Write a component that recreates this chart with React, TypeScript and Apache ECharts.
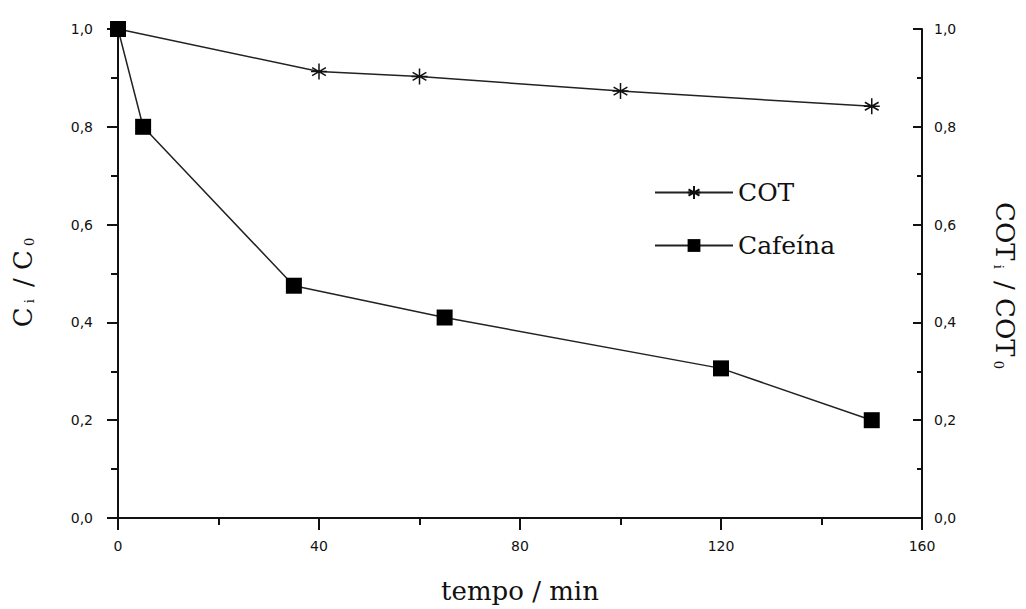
import React, { useEffect, useRef } from "react";
import * as echarts from "echarts";

const cafeinaTime = [0, 5, 35, 65, 120, 150];
const cafeinaValues = [1.0, 0.8, 0.475, 0.41, 0.306, 0.2];
const cotTime = [0, 40, 60, 100, 150];
const cotValues = [1.0, 0.913, 0.903, 0.873, 0.842];
const xTicks = [0, 40, 80, 120, 160];
const seriesNames = ["COT", "Cafeína"];

const asterisk = "path://M5,0L5,10M0.7,2.5L9.3,7.5M9.3,2.5L0.7,7.5M0,5L10,5";

const fmt = (v: number) => v.toFixed(1).replace(".", ",");

export default function App() {
  const ref = useRef<HTMLDivElement>(null);
  useEffect(() => {
    if (!ref.current) return;
    const chart = echarts.init(ref.current, undefined, { renderer: "svg" });
    const axisColor = "#111";
    const labelFont = { fontFamily: "DejaVu Sans", fontSize: 14, color: "#111" };
    const serif = "DejaVu Serif";
    const rich = {
      s: { fontFamily: serif, fontSize: 13, color: "#111", verticalAlign: "bottom" as const, padding: [12, 4, 0, 4] },
    };
    chart.setOption({
      animation: false,
      backgroundColor: "#fff",
      grid: { left: 118, right: 99, top: 29, bottom: 89 },
      legend: {
        orient: "vertical",
        left: 649,
        top: 175,
        itemWidth: 78,
        itemHeight: 16,
        itemGap: 28,
        data: seriesNames,
        textStyle: { fontFamily: serif, fontSize: 25, color: "#111" },
      },
      xAxis: {
        type: "value",
        min: 0,
        max: 160,
        interval: 40,
        name: "tempo / min",
        nameLocation: "middle",
        nameGap: 60,
        nameTextStyle: { fontFamily: serif, fontSize: 26, color: "#111" },
        axisLine: { show: true, onZero: false, lineStyle: { color: axisColor, width: 2 } },
        axisTick: { show: true, length: 12, lineStyle: { color: axisColor, width: 2 } },
        minorTick: { show: true, splitNumber: 2, length: 7, lineStyle: { color: axisColor, width: 2 } },
        axisLabel: { ...labelFont, margin: 21, formatter: (v: number) => String(v), customValues: xTicks },
        splitLine: { show: false },
      },
      yAxis: [
        {
          type: "value",
          position: "left",
          min: 0,
          max: 1,
          interval: 0.2,
          name: "C{s|i} / C{s|0}",
          nameLocation: "middle",
          nameGap: 82,
          nameRotate: 90,
          nameTextStyle: { fontFamily: serif, fontSize: 26, color: "#111", rich, padding: [0, 14, 0, 0] },
          axisLine: { show: true, onZero: false, lineStyle: { color: axisColor, width: 2 } },
          axisTick: { show: true, length: 11, lineStyle: { color: axisColor, width: 2 } },
          minorTick: { show: true, splitNumber: 2, length: 7, lineStyle: { color: axisColor, width: 2 } },
          axisLabel: { ...labelFont, margin: 25, formatter: fmt },
          splitLine: { show: false },
        },
        {
          type: "value",
          position: "right",
          min: 0,
          max: 1,
          interval: 0.2,
          name: "COT{s|i} / COT{s|0}",
          nameLocation: "middle",
          nameGap: 70,
          nameRotate: -90,
          nameTextStyle: { fontFamily: serif, fontSize: 26, color: "#111", rich, padding: [0, 0, 0, 28] },
          axisLine: { show: true, onZero: false, lineStyle: { color: axisColor, width: 2 } },
          axisTick: { show: true, inside: true, length: 9, lineStyle: { color: axisColor, width: 2 } },
          minorTick: { show: true, splitNumber: 2, length: 5, lineStyle: { color: axisColor, width: 2 } },
          axisLabel: { ...labelFont, margin: 12, formatter: fmt },
          splitLine: { show: false },
        },
      ],
      series: [
        {
          name: "COT",
          type: "line",
          yAxisIndex: 1,
          data: cotTime.map((t, i) => [t, cotValues[i]]),
          symbol: asterisk,
          symbolSize: 16,
          lineStyle: { color: "#222", width: 1.5 },
          itemStyle: { color: "transparent", borderColor: "#111", borderWidth: 1.5 },
          z: 2,
        },
        {
          name: "Cafeína",
          type: "line",
          yAxisIndex: 0,
          data: cafeinaTime.map((t, i) => [t, cafeinaValues[i]]),
          symbol: "rect",
          symbolSize: 16,
          lineStyle: { color: "#222", width: 1.5 },
          itemStyle: { color: "#000", borderColor: "#000", borderWidth: 0 },
          z: 3,
        },
      ],
    });
    return () => chart.dispose();
  }, []);
  return (
    <div
      ref={ref}
      style={{ position: "fixed", left: 0, top: 0, width: 1026, height: 609, background: "#fff" }}
    />
  );
}
